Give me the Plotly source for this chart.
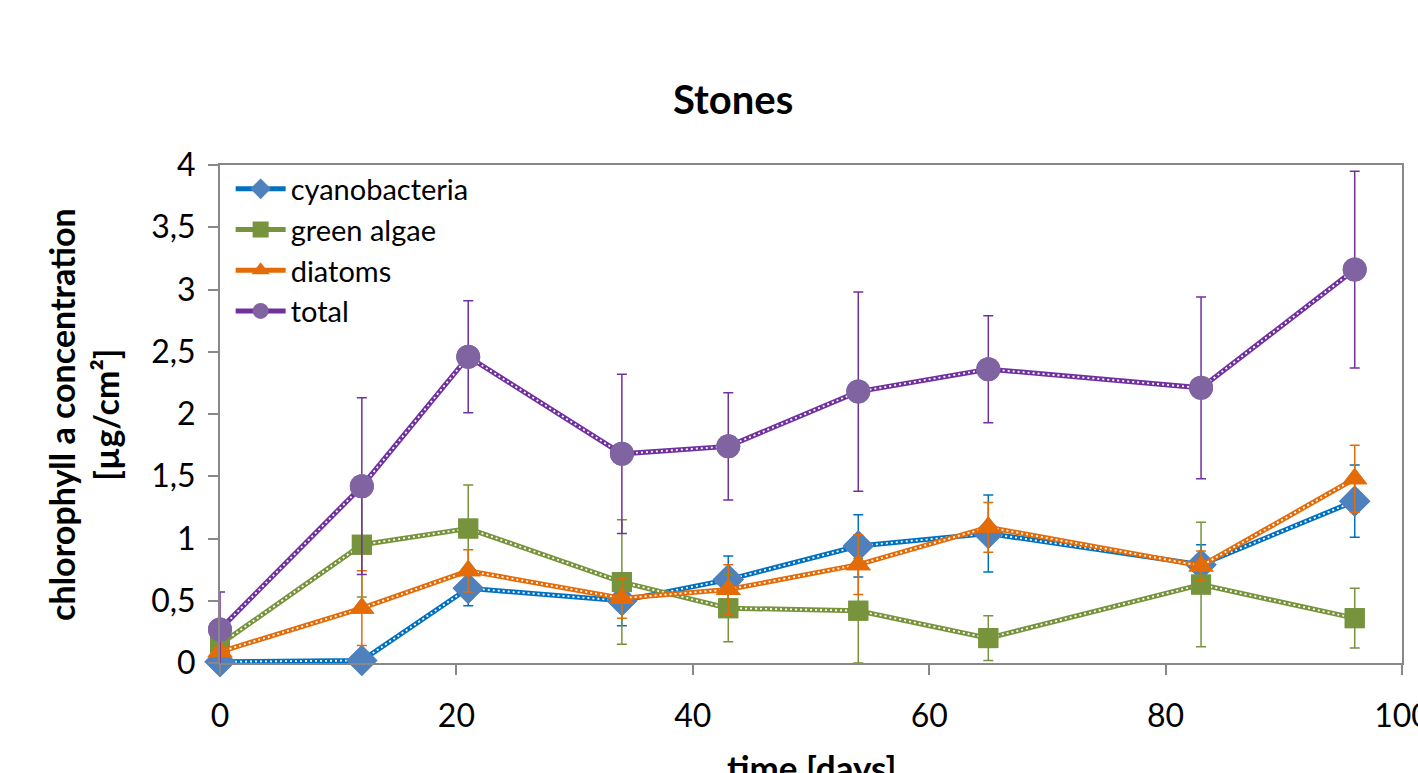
import plotly.graph_objects as go

days = [0, 12, 21, 34, 43, 54, 65, 83, 96]

cyano = [0.01, 0.02, 0.60, 0.50, 0.67, 0.94, 1.04, 0.79, 1.30]
cyano_err = [0.01, 0.01, 0.14, 0.20, 0.19, 0.25, 0.31, 0.16, 0.29]

green = [0.15, 0.95, 1.08, 0.65, 0.44, 0.42, 0.20, 0.63, 0.36]
green_err = [0.05, 0.42, 0.35, 0.50, 0.27, 0.42, 0.18, 0.50, 0.24]

diatoms = [0.09, 0.44, 0.74, 0.52, 0.59, 0.79, 1.09, 0.78, 1.48]
diatoms_err = [0.02, 0.30, 0.17, 0.16, 0.20, 0.24, 0.20, 0.12, 0.27]

total = [0.27, 1.42, 2.46, 1.68, 1.74, 2.18, 2.36, 2.21, 3.16]
total_err = [0.30, 0.71, 0.45, 0.64, 0.43, 0.80, 0.43, 0.73, 0.79]

series = [
    ("cyanobacteria", cyano, cyano_err, "#0070C0", "#4F81BD", "diamond", 24),
    ("green algae", green, green_err, "#77933C", "#77933C", "square", 20),
    ("diatoms", diatoms, diatoms_err, "#E36C09", "#E36C09", "triangle-up", 22),
    ("total", total, total_err, "#7030A0", "#8064A2", "circle", 24),
]

FONT = "Lato, 'Liberation Sans', sans-serif"

fig = go.Figure()
for name, vals, errs, lc, mc, sym, size in series:
    fig.add_trace(go.Scatter(
        x=days, y=vals, name=name, mode="lines+markers",
        line=dict(color=lc, width=5),
        marker=dict(symbol=sym, size=size, color=mc, line=dict(width=0)),
        error_y=dict(type="data", array=errs, visible=True, color=lc,
                     thickness=1.5, width=5),
        cliponaxis=False,
    ))
    fig.add_trace(go.Scatter(
        x=days, y=vals, mode="lines", showlegend=False, hoverinfo="skip",
        line=dict(color="white", width=1.8, dash="2px,3px"),
        cliponaxis=False,
    ))
    fig.add_trace(go.Scatter(
        x=days, y=vals, mode="markers", showlegend=False, hoverinfo="skip",
        marker=dict(symbol=sym, size=size, color=mc, line=dict(width=0)),
        cliponaxis=False,
    ))

fig.update_layout(
    width=1418, height=773,
    margin=dict(l=220, r=16, t=165, b=110, autoexpand=False),
    paper_bgcolor="white", plot_bgcolor="white",
    separators=", ",
    font=dict(family=FONT, size=26, color="black"),
    title=dict(text="<b>Stones</b>", x=0.517, xanchor="center",
               y=1 - 100 / 773, yanchor="middle", yref="container",
               font=dict(size=40, family=FONT)),
    legend=dict(x=0.009, y=1.003, xanchor="left", yanchor="top",
                bgcolor="rgba(0,0,0,0)", font=dict(size=29, family=FONT),
                tracegroupgap=0, itemwidth=50),
    showlegend=True,
)

fig.update_xaxes(
    range=[0, 100], dtick=20, tick0=0, showgrid=False, zeroline=False,
    showline=True, linecolor="#888888", linewidth=2, mirror=True,
    ticks="outside", ticklen=10, tickcolor="#888888", tickwidth=2,
    ticklabelstandoff=14, ticklabeloverflow="allow", automargin=False,
    tickfont=dict(size=32, family=FONT),
)
fig.update_yaxes(
    range=[0, 4], dtick=0.5, tick0=0, showgrid=False, zeroline=False,
    showline=True, linecolor="#888888", linewidth=2, mirror=True,
    ticks="outside", ticklen=10, tickcolor="#888888", tickwidth=2,
    ticklabelstandoff=6, automargin=False,
    tickfont=dict(size=32, family=FONT),
)

fig.add_annotation(
    text="<b>chlorophyll a concentration<br>[µg/cm²]</b>",
    xref="paper", yref="paper", x=-0.116, y=0.5,
    xanchor="center", yanchor="middle", textangle=-90, showarrow=False,
    font=dict(size=34, family=FONT),
)
fig.add_annotation(
    text="<b>time [days]</b>",
    xref="paper", yref="paper", x=0.5, y=-0.208,
    xanchor="center", yanchor="middle", showarrow=False,
    font=dict(size=35, family=FONT),
)

fig.write_html("out.html")
